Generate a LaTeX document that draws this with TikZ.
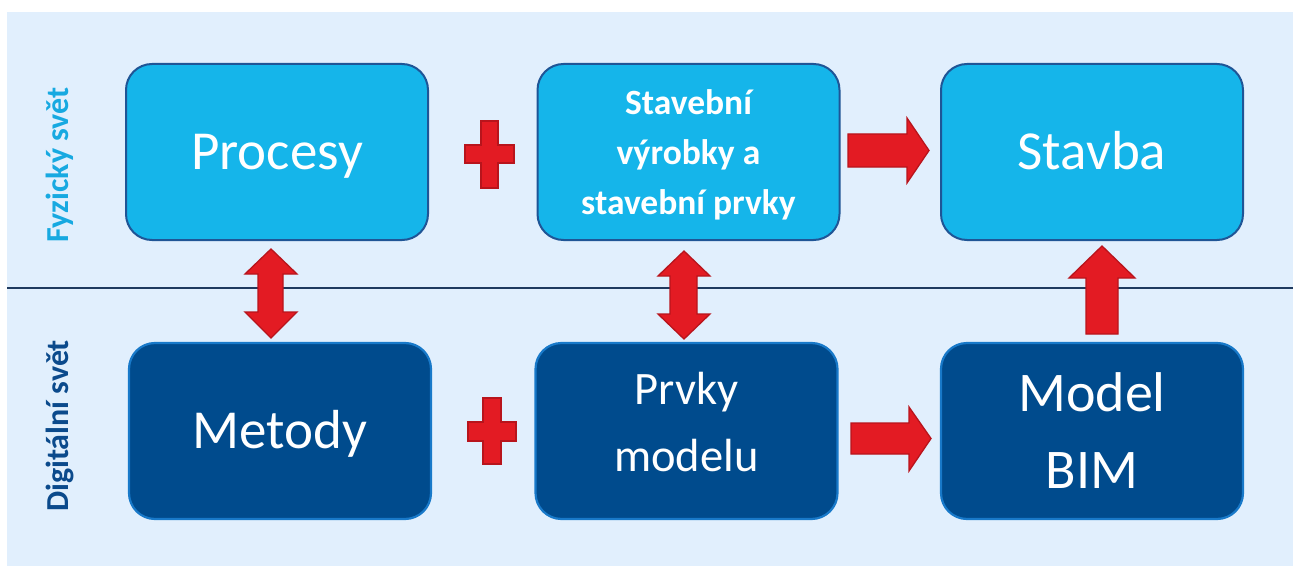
\documentclass[tikz,border=0pt]{standalone}
\usepackage{fontspec}
\setmainfont{Carlito}
\definecolor{bgfill}{HTML}{E1EFFD}
\definecolor{sepline}{HTML}{1E3A5F}
\definecolor{topfill}{HTML}{15B5EA}
\definecolor{topline}{HTML}{1F5596}
\definecolor{botfill}{HTML}{004B8D}
\definecolor{botline}{HTML}{1879C9}
\definecolor{redfill}{HTML}{E31B23}
\definecolor{redline}{HTML}{B8141C}
\definecolor{fyzcol}{HTML}{17A9E1}
\definecolor{digcol}{HTML}{0B4A8C}
\begin{document}
\begin{tikzpicture}[x=1pt,y=-1pt,
  topbox/.style={draw=topline, line width=2pt, fill=topfill, rounded corners=26pt,
    minimum width=302pt, minimum height=176pt, text=white, inner sep=0pt, align=center},
  botbox/.style={topbox, draw=botline, fill=botfill, line width=2.2pt},
  bigtxt/.style={font=\fontsize{55}{66}\selectfont, text height=35pt, text depth=0pt},
  sidelabel/.style={rotate=90, font=\bfseries\fontsize{32}{38}\selectfont,
    text height=20pt, text depth=0pt, inner sep=0pt},
  redshape/.style={fill=redfill, draw=redline, line width=1.3pt, line join=miter}
]
\useasboundingbox (0,0) rectangle (1293,567);
% background panel
\fill[bgfill] (7,12) rectangle (1293,566);
\coordinate (sepL) at (7,288);
\coordinate (sepR) at (1293,288);
\draw[sepline, line width=1.5pt] (sepL) -- (sepR);

% side labels
\node[sidelabel, text=fyzcol] (fyz) at (58,165) {Fyzický svět};
\node[sidelabel, text=digcol] (dig) at (58,426) {Digitální svět};

% top row
\node[topbox, bigtxt] (procesy) at (277,152) {Procesy};
\node[topbox, font=\bfseries\fontsize{35.5}{50}\selectfont, text depth=0pt] (vyrobky) at (688.5,152)
  {Stavební\\výrobky a\\stavební prvky};
\node[topbox, bigtxt] (stavba) at (1092,152) {Stavba};

% bottom row
\node[botbox, bigtxt] (metody) at (280,431) {Metody};
\node[botbox, font=\fontsize{46.5}{67}\selectfont, text depth=18pt] (prvky) at (686.5,431) {Prvky\\modelu};
\node[botbox, font=\fontsize{56}{77}\selectfont] (bim) at (1092,431) {Model\\BIM};

% plus signs
\draw[redshape] (481,121) -- (498,121) -- (498,145) -- (514,145) -- (514,163) -- (498,163)
  -- (498,188) -- (481,188) -- (481,163) -- (465,163) -- (465,145) -- (481,145) -- cycle;
\draw[redshape] (483,398) -- (501,398) -- (501,422) -- (516,422) -- (516,441) -- (501,441)
  -- (501,464) -- (483,464) -- (483,441) -- (468,441) -- (468,422) -- (483,422) -- cycle;

% right arrows
\draw[redshape] (848,134) -- (907,134) -- (907,118) -- (929,150.5) -- (907,183) -- (907,167)
  -- (848,167) -- cycle;
\draw[redshape] (851,423) -- (909,423) -- (909,407) -- (931,438.5) -- (909,471) -- (909,454)
  -- (851,454) -- cycle;

% up arrow BIM -> Stavba
\draw[redshape] (1086,334) -- (1086,278) -- (1069,278) -- (1102,246) -- (1135,278) -- (1118,278)
  -- (1118,334) -- cycle;

% double arrows
\draw[redshape] (271,249) -- (297,274) -- (283,274) -- (283,312) -- (297,312) -- (271,338)
  -- (245,312) -- (258,312) -- (258,274) -- (245,274) -- cycle;
\draw[redshape] (684,251) -- (710,276) -- (697,276) -- (697,314) -- (710,314) -- (684,339)
  -- (658,314) -- (670,314) -- (670,276) -- (658,276) -- cycle;
\end{tikzpicture}
\end{document}
